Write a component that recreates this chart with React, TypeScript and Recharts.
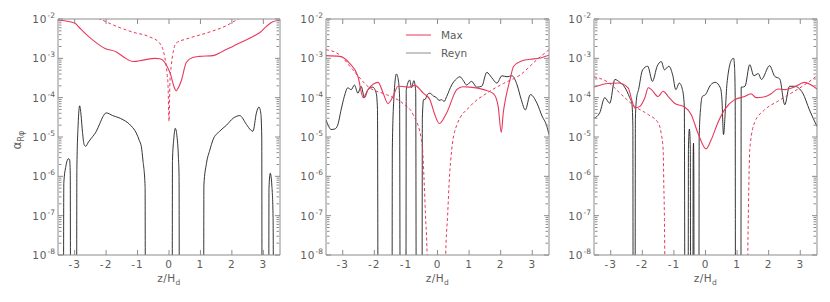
import React from 'react';
import { LineChart, Line, XAxis, YAxis, Legend } from 'recharts';

type Pair = [number, number];

const FONT = '"DejaVu Sans", "Liberation Sans", sans-serif';
const RED = '#e8395c';
const BLACK = '#1e1e1e';
const FRAME = '#8c8c8c';
const TEXT = '#5c5c5c';

const X_DOMAIN: [number, number] = [-3.53, 3.53];
const Y_DOMAIN: [number, number] = [1e-8, 1e-2];
const xTicks = [-3, -2, -1, 0, 1, 2, 3];
const yTicks = [1e-8, 1e-7, 1e-6, 1e-5, 1e-4, 1e-3, 1e-2];
const yTickExponents = ['-8', '-7', '-6', '-5', '-4', '-3', '-2'];
const yMinorTicks: number[] = [];
for (let d = -8; d < -2; d++) {
  for (let m = 2; m <= 9; m++) yMinorTicks.push(m * Math.pow(10, d));
}
const legendItems = [
  { label: 'Max', color: RED },
  { label: 'Reyn', color: '#8e8e8e' },
];

// ---------- Panel 1 ----------
const p1Max: Pair[] = [
  [-3.53, 9.3e-3], [-3.32, 9.0e-3], [-3.0, 7.9e-3], [-2.84, 5.9e-3], [-2.65, 4.2e-3],
  [-2.37, 2.7e-3], [-2.05, 1.8e-3], [-1.67, 1.45e-3], [-1.4, 1.02e-3], [-1.14, 8.3e-4],
  [-0.83, 9.0e-4], [-0.45, 1.0e-3], [-0.3, 9.8e-4], [-0.19, 8.9e-4], [-0.05, 6.0e-4],
  [0.05, 3.9e-4], [0.15, 2.0e-4], [0.23, 1.5e-4], [0.3, 1.8e-4], [0.39, 2.7e-4],
  [0.55, 7.8e-4], [0.75, 1.05e-3], [0.97, 1.12e-3], [1.4, 1.17e-3], [1.7, 1.5e-3],
  [2.04, 2.04e-3], [2.4, 2.8e-3], [2.67, 3.6e-3], [2.9, 4.6e-3], [3.1, 6.5e-3],
  [3.3, 8.5e-3], [3.53, 9.3e-3],
];
const p1MaxDash: Pair[] = [
  [-3.53, 3.0e-2], [-2.9, 1.7e-2], [-2.2, 1.0e-2], [-1.67, 6.5e-3], [-1.14, 4.6e-3],
  [-0.61, 3.5e-3], [-0.3, 2.45e-3], [-0.14, 1.12e-3], [-0.06, 4.0e-4], [-0.03, 2.0e-4],
  [0.0, 2.5e-5], [0.03, 2.5e-4], [0.07, 6.3e-4], [0.13, 1.4e-3], [0.23, 2.45e-3],
  [0.55, 3.1e-3], [1.19, 4.4e-3], [1.83, 6.8e-3], [2.2, 1.0e-2], [2.9, 1.7e-2],
  [3.53, 3.0e-2],
];
const p1Reyn: Pair[] = [
  [-3.53, 1e-10], [-3.36, 1e-10], [-3.345, 6.8e-7], [-3.28, 1.8e-6], [-3.2, 2.8e-6],
  [-3.16, 2.6e-6], [-3.14, 1.2e-6], [-3.13, 1e-10], [-2.94, 1e-10], [-2.93, 1.5e-6],
  [-2.89, 2.0e-5], [-2.84, 6.2e-5], [-2.8, 3.8e-5], [-2.75, 1.3e-5], [-2.7, 6.5e-6],
  [-2.65, 5.8e-6], [-2.56, 7.5e-6], [-2.47, 9.3e-6], [-2.31, 1.4e-5], [-2.2, 2.2e-5],
  [-2.1, 3.3e-5], [-2.0, 4.1e-5], [-1.79, 3.5e-5], [-1.46, 2.75e-5], [-1.2, 1.9e-5],
  [-1.04, 1.26e-5], [-0.94, 8.0e-6], [-0.88, 5.7e-6], [-0.83, 2.6e-6], [-0.76, 5.5e-7],
  [-0.75, 1e-10], [0.1, 1e-10], [0.11, 2.5e-6], [0.15, 8.5e-6], [0.2, 1.66e-5],
  [0.25, 1.1e-5], [0.3, 3.0e-6], [0.32, 1.0e-6], [0.33, 1e-10], [1.1, 1e-10],
  [1.11, 6.0e-7], [1.19, 2.1e-6], [1.3, 4.7e-6], [1.4, 8.5e-6], [1.61, 1.4e-5],
  [1.83, 2.0e-5], [2.04, 3.0e-5], [2.25, 3.5e-5], [2.46, 2.1e-5], [2.6, 1.5e-5],
  [2.67, 1.4e-5], [2.78, 4.1e-5], [2.86, 5.8e-5], [2.92, 4.0e-5], [2.95, 1.0e-5],
  [2.96, 1e-10], [3.17, 1e-10], [3.18, 5.0e-7], [3.22, 1.2e-6], [3.27, 6.0e-7],
  [3.31, 9.0e-8], [3.33, 1e-10], [3.53, 1e-10],
];

// ---------- Panel 2 ----------
const p2Max: Pair[] = [
  [-3.53, 1.17e-3], [-3.1, 1.12e-3], [-2.79, 7.6e-4], [-2.52, 3.5e-4], [-2.35, 1.0e-4],
  [-2.2, 1.6e-4], [-1.88, 2.45e-4], [-1.72, 1.3e-4], [-1.57, 7.1e-5], [-1.41, 1.07e-4],
  [-1.25, 1.95e-4], [-1.05, 1.9e-4], [-0.88, 1.85e-4], [-0.72, 2.05e-4], [-0.45, 1.3e-4],
  [-0.24, 8.9e-5], [-0.1, 4.0e-5], [0.06, 2.2e-5], [0.29, 4.1e-5], [0.61, 1.6e-4],
  [0.8, 1.9e-4], [1.03, 1.85e-4], [1.46, 1.6e-4], [1.78, 1.25e-4], [1.92, 6.0e-5],
  [2.02, 1.3e-5], [2.08, 4.0e-5], [2.15, 8.9e-5], [2.3, 3.0e-4], [2.41, 6.3e-4],
  [2.68, 8.7e-4], [2.94, 9.5e-4], [3.2, 1.0e-3], [3.53, 1.2e-3],
];
const p2MaxDash: Pair[] = [
  [-3.53, 1.66e-3], [-3.1, 1.23e-3], [-2.68, 5.1e-4], [-2.15, 1.78e-4], [-1.62, 1.2e-4],
  [-1.09, 7.1e-5], [-0.77, 3.7e-5], [-0.51, 8.5e-6], [-0.47, 4.7e-6], [-0.43, 1.0e-6],
  [-0.38, 1.0e-7], [-0.33, 1.0e-8], [-0.3, 1e-10], [0.23, 1e-10], [0.26, 1.0e-8],
  [0.32, 1.0e-7], [0.38, 1.0e-6], [0.45, 4.7e-6], [0.61, 2.0e-5], [1.03, 6.0e-5],
  [1.56, 1.3e-4], [2.09, 2.3e-4], [2.62, 3.8e-4], [3.15, 9.3e-4], [3.53, 1.66e-3],
];
const p2Reyn: Pair[] = [
  [-3.53, 2.75e-5], [-3.45, 1.9e-5], [-3.37, 1.55e-5], [-3.25, 1.6e-5], [-3.16, 2.0e-5],
  [-3.05, 5.0e-5], [-2.95, 1.07e-4], [-2.84, 1.78e-4], [-2.73, 1.6e-4], [-2.63, 2.1e-4],
  [-2.52, 1.3e-4], [-2.42, 1.95e-4], [-2.31, 1.0e-4], [-2.2, 1.6e-4], [-2.05, 1.85e-4],
  [-1.94, 1.3e-4], [-1.9, 5.0e-5], [-1.88, 1e-10], [-1.44, 1e-10], [-1.43, 5.0e-6],
  [-1.38, 1.0e-4], [-1.3, 4.0e-4], [-1.24, 2.8e-4], [-1.2, 1.0e-4], [-1.18, 1e-10],
  [-1.0, 1e-10], [-0.99, 1.5e-4], [-0.95, 2.2e-4], [-0.88, 2.8e-4], [-0.82, 1.8e-4],
  [-0.75, 2.7e-4], [-0.69, 1.5e-4], [-0.67, 1e-10], [-0.49, 1e-10], [-0.48, 3.0e-5],
  [-0.44, 9.0e-5], [-0.4, 8.9e-5], [-0.32, 1.2e-4], [-0.24, 1.3e-4], [-0.13, 1.1e-4],
  [-0.03, 1.0e-4], [0.05, 8.5e-5], [0.13, 8.9e-5], [0.21, 8.0e-5], [0.29, 1.07e-4],
  [0.45, 2.1e-4], [0.6, 3.0e-4], [0.71, 3.4e-4], [0.82, 2.7e-4], [0.92, 2.1e-4],
  [1.08, 2.6e-4], [1.24, 1.85e-4], [1.4, 1.95e-4], [1.56, 4.4e-4], [1.72, 3.2e-4],
  [1.88, 2.35e-4], [2.04, 3.6e-4], [2.2, 3.4e-4], [2.36, 3.6e-4], [2.52, 2.1e-4],
  [2.65, 9.0e-5], [2.78, 4.9e-5], [2.94, 1.2e-4], [3.15, 7.2e-5], [3.31, 3.4e-5],
  [3.45, 2.0e-5], [3.53, 1.15e-5],
];

// ---------- Panel 3 ----------
const p3Max: Pair[] = [
  [-3.53, 1.86e-4], [-3.08, 2.3e-4], [-2.76, 2.35e-4], [-2.45, 1.78e-4], [-2.32, 8.0e-5],
  [-2.24, 5.5e-5], [-2.08, 6.0e-5], [-1.92, 1.0e-4], [-1.81, 1.78e-4], [-1.71, 1.6e-4],
  [-1.5, 1.07e-4], [-1.34, 1.45e-4], [-1.18, 1.07e-4], [-0.97, 7.1e-5], [-0.66, 5.8e-5],
  [-0.45, 3.7e-5], [-0.24, 1.26e-5], [0.02, 5.0e-6], [0.18, 8.5e-6], [0.39, 2.3e-5],
  [0.6, 4.9e-5], [0.92, 8.9e-5], [1.24, 1.07e-4], [1.44, 1.26e-4], [1.6, 1.0e-4],
  [1.87, 1.05e-4], [2.08, 1.26e-4], [2.29, 1.66e-4], [2.5, 1.6e-4], [2.81, 1.86e-4],
  [3.13, 2.45e-4], [3.53, 1.66e-4],
];
const p3MaxDash: Pair[] = [
  [-3.53, 3.4e-4], [-3.08, 2.45e-4], [-2.66, 1.2e-4], [-2.24, 6.0e-5], [-1.81, 3.7e-5],
  [-1.5, 2.3e-5], [-1.4, 1.2e-5], [-1.34, 4.7e-6], [-1.32, 6.0e-7], [-1.3, 8.0e-8],
  [-1.29, 1.0e-8], [-1.28, 1e-10], [1.33, 1e-10], [1.34, 1.0e-8], [1.36, 1.5e-7],
  [1.38, 1.2e-6], [1.4, 4.7e-6], [1.55, 2.3e-5], [1.87, 4.9e-5], [2.29, 8.1e-5],
  [2.71, 1.3e-4], [3.13, 2.1e-4], [3.53, 3.6e-4],
];
const p3Reyn: Pair[] = [
  [-3.53, 3.0e-5], [-3.35, 4.1e-5], [-3.19, 1.0e-4], [-3.03, 7.2e-5], [-2.87, 2.9e-4],
  [-2.71, 2.45e-4], [-2.56, 1.86e-4], [-2.4, 1.0e-4], [-2.33, 7.0e-5], [-2.3, 2.0e-5],
  [-2.29, 1e-10], [-2.23, 1e-10], [-2.22, 3.0e-5], [-2.18, 1.0e-4], [-2.12, 1.6e-4],
  [-1.99, 5.1e-4], [-1.83, 6.3e-4], [-1.68, 2.6e-4], [-1.53, 6.3e-4], [-1.4, 8.3e-4],
  [-1.3, 5.1e-4], [-1.16, 6.3e-4], [-1.04, 3.8e-4], [-0.94, 1.6e-4], [-0.83, 2.35e-4],
  [-0.73, 1.6e-4], [-0.67, 6.0e-5], [-0.65, 1e-10], [-0.55, 1e-10], [-0.54, 5.0e-6],
  [-0.51, 1.6e-5], [-0.48, 5.0e-6], [-0.47, 1e-10], [-0.4, 1e-10], [-0.39, 3.0e-6],
  [-0.38, 7.0e-6], [-0.37, 2.0e-6], [-0.36, 1e-10], [-0.21, 1e-10], [-0.2, 1.0e-5],
  [-0.15, 6.0e-5], [-0.1, 1.07e-4], [0.0, 1.2e-4], [0.16, 2.1e-4], [0.31, 2.45e-4],
  [0.47, 1.78e-4], [0.52, 9.0e-5], [0.57, 1.15e-5], [0.63, 5.0e-5], [0.68, 2.3e-4],
  [0.84, 9.5e-4], [0.89, 1.0e-3], [0.92, 6.0e-4], [0.94, 1.0e-4], [0.95, 1e-10],
  [1.12, 1e-10], [1.13, 1.86e-4], [1.17, 1.86e-4], [1.25, 1.95e-4], [1.4, 6.9e-4],
  [1.53, 3.6e-4], [1.67, 4.1e-4], [1.77, 2.9e-4], [2.03, 6.5e-4], [2.19, 3.5e-4],
  [2.35, 3.0e-4], [2.51, 6.6e-5], [2.66, 1.95e-4], [2.82, 1.95e-4], [3.08, 1.3e-4],
  [3.29, 4.9e-5], [3.53, 1.86e-5],
];

const toPts = (arr: Pair[]) => arr.map(([x, y]) => ({ x, y }));

const EmptyTick = () => <g />;

const XTick = (props: any) => {
  const { x, y, payload } = props;
  return (
    <text x={x} y={y + 13} textAnchor="middle" fill={TEXT} fontSize={10.5}
      fontFamily={FONT} letterSpacing={1}>
      {String(payload.value)}
    </text>
  );
};

const YTick = (props: any) => {
  const { x, y, payload, index } = props;
  const i = yTicks.indexOf(payload.value);
  const exp = yTickExponents[i >= 0 ? i : index];
  return (
    <text x={x} y={y + 4} textAnchor="end" fill={TEXT} fontSize={10.5} fontFamily={FONT}
      letterSpacing={1}>
      10<tspan dy={-5} fontSize={7.5} letterSpacing={0}>{exp}</tspan>
    </text>
  );
};

const XLabel = (props: any) => {
  const vb = props.viewBox || {};
  const cx = vb.x + vb.width / 2;
  return (
    <text x={cx} y={vb.y + 27} textAnchor="middle" fill={TEXT} fontSize={10.5} fontFamily={FONT}
      letterSpacing={0.5}>
      z/H<tspan dy={3} fontSize={7.5}>d</tspan>
    </text>
  );
};

const YLabel = (props: any) => {
  const vb = props.viewBox || {};
  const cx = vb.x + 13;
  const cy = vb.y + vb.height / 2 + 3;
  return (
    <text x={cx} y={cy} textAnchor="middle" fill={TEXT} fontSize={12} fontFamily={FONT}
      transform={`rotate(-90, ${cx}, ${cy})`}>
      α<tspan dy={3} fontSize={8}>Rφ</tspan>
    </text>
  );
};

const LegendBox = () => (
  <svg width={90} height={32} style={{ display: 'block', overflow: 'visible' }}>
    {legendItems.map((it, i) => (
      <g key={it.label}>
        <line x1={0} x2={25} y1={7 + i * 18} y2={7 + i * 18} stroke={it.color} strokeWidth={1} />
        <text x={35} y={11 + i * 18} fill={TEXT} fontSize={10.5} fontFamily={FONT}>{it.label}</text>
      </g>
    ))}
  </svg>
);

interface PanelProps {
  left: number;
  plotLeft: number;
  plotRight: number;
  max: Pair[];
  maxDash: Pair[];
  reyn: Pair[];
  yLabel?: boolean;
  legend?: boolean;
}

const Panel = ({ left, plotLeft, plotRight, max, maxDash, reyn, yLabel, legend }: PanelProps) => {
  const yw = plotLeft - left;
  const width = plotRight - left + 3;
  const tl = { stroke: FRAME, strokeWidth: 1 };
  return (
    <div style={{ position: 'absolute', left, top: 0 }}>
      <LineChart width={width} height={302} margin={{ top: 19, right: 3, bottom: 0, left: 0 }}>
        {/* tick-only mirror axes */}
        <XAxis xAxisId="bm" type="number" dataKey="x" orientation="bottom" mirror height={1}
          domain={X_DOMAIN} allowDataOverflow ticks={xTicks} interval={0} tick={EmptyTick}
          axisLine={false} tickLine={tl} tickSize={5} />
        <XAxis xAxisId="tm" type="number" dataKey="x" orientation="top" mirror height={1}
          domain={X_DOMAIN} allowDataOverflow ticks={xTicks} interval={0} tick={EmptyTick}
          axisLine={{ stroke: FRAME }} tickLine={tl} tickSize={5} />
        <YAxis yAxisId="lm" scale="log" type="number" orientation="left" mirror width={1}
          domain={Y_DOMAIN} allowDataOverflow ticks={yTicks} interval={0} tick={EmptyTick}
          axisLine={false} tickLine={tl} tickSize={5} />
        <YAxis yAxisId="lmn" scale="log" type="number" orientation="left" mirror width={1}
          domain={Y_DOMAIN} allowDataOverflow ticks={yMinorTicks} interval={0} tick={EmptyTick}
          axisLine={false} tickLine={tl} tickSize={2.5} />
        <YAxis yAxisId="rm" scale="log" type="number" orientation="right" mirror width={1}
          domain={Y_DOMAIN} allowDataOverflow ticks={yTicks} interval={0} tick={EmptyTick}
          axisLine={{ stroke: FRAME }} tickLine={tl} tickSize={5} />
        <YAxis yAxisId="rmn" scale="log" type="number" orientation="right" mirror width={1}
          domain={Y_DOMAIN} allowDataOverflow ticks={yMinorTicks} interval={0} tick={EmptyTick}
          axisLine={false} tickLine={tl} tickSize={2.5} />
        {/* main axes */}
        <XAxis type="number" dataKey="x" domain={X_DOMAIN} allowDataOverflow ticks={xTicks}
          interval={0} height={47} tickLine={false} tickSize={0} tickMargin={0}
          axisLine={{ stroke: FRAME }} tick={<XTick />}
          label={{ content: (p: any) => <XLabel {...p} /> }} />
        <YAxis scale="log" type="number" domain={Y_DOMAIN} allowDataOverflow ticks={yTicks}
          interval={0} width={yw} tickLine={false} tickSize={0} tickMargin={3}
          axisLine={{ stroke: FRAME }} tick={<YTick />}
          label={yLabel ? { content: (p: any) => <YLabel {...p} /> } : undefined} />
        <Line data={toPts(reyn)} dataKey="y" type="monotone" stroke={BLACK} strokeWidth={0.9}
          dot={false} activeDot={false} isAnimationActive={false} />
        <Line data={toPts(maxDash)} dataKey="y" type="monotone" stroke={RED} strokeWidth={1}
          strokeDasharray="3 2.5" dot={false} activeDot={false} isAnimationActive={false} />
        <Line data={toPts(max)} dataKey="y" type="monotone" stroke={RED} strokeWidth={1.1}
          dot={false} activeDot={false} isAnimationActive={false} />
        {legend && (
          <Legend layout="horizontal" verticalAlign="middle" align="center"
            content={() => <LegendBox />}
            wrapperStyle={{ position: 'absolute', left: 406 - left, top: 28, width: 90, height: 32 }} />
        )}
      </LineChart>
    </div>
  );
};

export default function App() {
  return (
    <div style={{ position: 'absolute', left: 0, top: 0, width: 830, height: 302, background: '#fff' }}>
      <Panel left={8} plotLeft={58} plotRight={280} max={p1Max} maxDash={p1MaxDash} reyn={p1Reyn} yLabel />
      <Panel left={276} plotLeft={326} plotRight={549} max={p2Max} maxDash={p2MaxDash} reyn={p2Reyn} legend />
      <Panel left={544} plotLeft={594} plotRight={817} max={p3Max} maxDash={p3MaxDash} reyn={p3Reyn} />
    </div>
  );
}
